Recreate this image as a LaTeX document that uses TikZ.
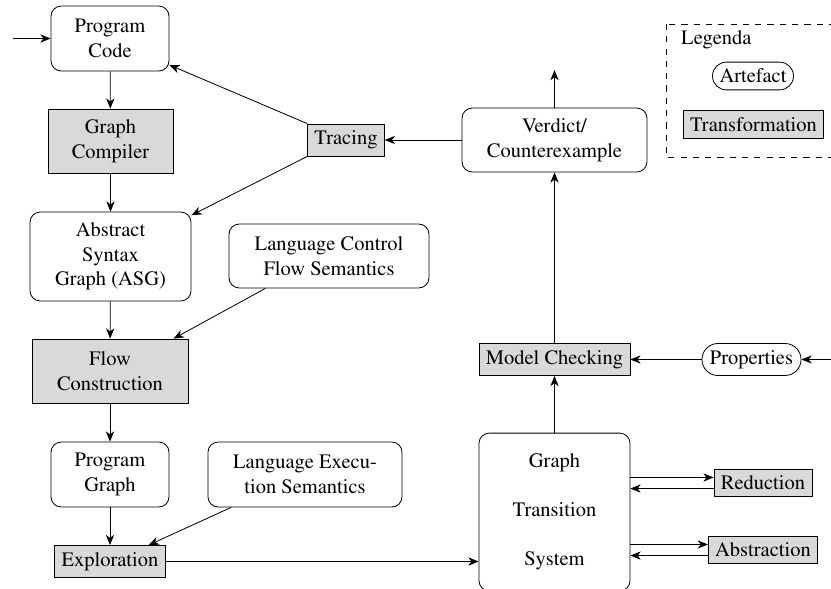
\documentclass[tikz,border=0pt]{standalone}
\usepackage[T1]{fontenc}
\usepackage{times}
\usetikzlibrary{arrows.meta, shapes.misc}

\tikzset{
  artefact/.style={draw, rounded corners=5pt, align=center},
  pill/.style={draw, rounded rectangle, inner xsep=2.5pt},
  transformation/.style={draw, fill=gray!30, align=center},
}

\begin{document}
\begin{tikzpicture}[x=0.488pt, y=-0.488pt, >={Stealth[length=5pt,width=4pt,inset=1.5pt]}]
  \useasboundingbox (0,0) rectangle (831,588);

  % left column
  \node[artefact, minimum width=57.6pt, minimum height=31.7pt] (code) at (110,38.5) {Program\\Code};
  \node[transformation, minimum width=61pt, minimum height=31.2pt] (compiler) at (110.5,141) {Graph\\Compiler};
  \node[artefact, minimum width=78.6pt, minimum height=43.4pt] (asg) at (110.5,256.5) {Abstract\\Syntax\\Graph (ASG)};
  \node[transformation, minimum width=76.1pt, minimum height=31.2pt] (flow) at (110,371) {Flow\\Construction};
  \node[artefact, minimum width=57.6pt, minimum height=31.7pt] (pgraph) at (110,474.5) {Program\\Graph};
  \node[transformation] (explore) at (110,561.5) {Exploration};

  % semantics
  \node[artefact, minimum width=97.6pt, minimum height=31.2pt] (ctrlsem) at (329,256) {Language Control\\Flow Semantics};
  \node[artefact, minimum width=94.7pt, minimum height=31.7pt] (execsem) at (305,474.5) {Language Execu-\\tion Semantics};

  % right column
  \node[transformation] (tracing) at (346,140) {Tracing};
  \node[artefact, minimum width=90.3pt, minimum height=31.2pt] (verdict) at (554.5,140) {Verdict/\\Counterexample};
  \node[transformation] (mc) at (554.5,359.5) {Model Checking};
  \node[pill] (props) at (751.5,359.5) {Properties};
  \node[artefact, minimum width=73.7pt, minimum height=77pt] (gts) at (554.5,512) {Graph\\[12pt]Transition\\[12pt]System};
  \node[transformation] (reduce) at (763,483) {Reduction};
  \node[transformation] (abstr) at (763,550) {Abstraction};

  \coordinate (in) at (13,38.5);
  \coordinate (out) at (554.5,70);
  \coordinate (propin) at (840,359.5);

  % legend
  \draw[dashed] (666,24) rectangle (845,157);
  \node[anchor=west] (legtitle) at (674,40) {Legenda};
  \node[pill] (legart) at (753,76) {Artefact};
  \node[transformation] (legtrans) at (753.5,124.5) {Transformation};

  \draw[->] (in) -- (code);
  \draw[->] (code) -- (compiler);
  \draw[->] (compiler) -- (asg);
  \draw[->] (asg) -- (flow);
  \draw[->] (flow) -- (pgraph);
  \draw[->] (pgraph) -- (explore);
  \draw[->] (ctrlsem.207) -- (flow.27);
  \draw[->] (execsem.204) -- (explore.23);
  \draw[->] (explore.east) -- (explore.east -| gts.west);
  \draw[->] (gts) -- (mc);
  \draw[->] (mc) -- (verdict);
  \draw[->] (verdict) -- (out);
  \draw[->] (props) -- (mc);
  \draw[->] (propin) -- (props);
  \draw[->] (verdict) -- (tracing);
  \draw[->] (tracing.north west) -- (code.-24);
  \draw[->] (tracing.south west) -- (asg.27);
  \draw[->] ([yshift=2.7pt]reduce.west -| gts.east) -- ([yshift=2.7pt]reduce.west);
  \draw[->] ([yshift=-2.7pt]reduce.west) -- ([yshift=-2.7pt]reduce.west -| gts.east);
  \draw[->] ([yshift=2.7pt]abstr.west -| gts.east) -- ([yshift=2.7pt]abstr.west);
  \draw[->] ([yshift=-2.7pt]abstr.west) -- ([yshift=-2.7pt]abstr.west -| gts.east);
\end{tikzpicture}
\end{document}
